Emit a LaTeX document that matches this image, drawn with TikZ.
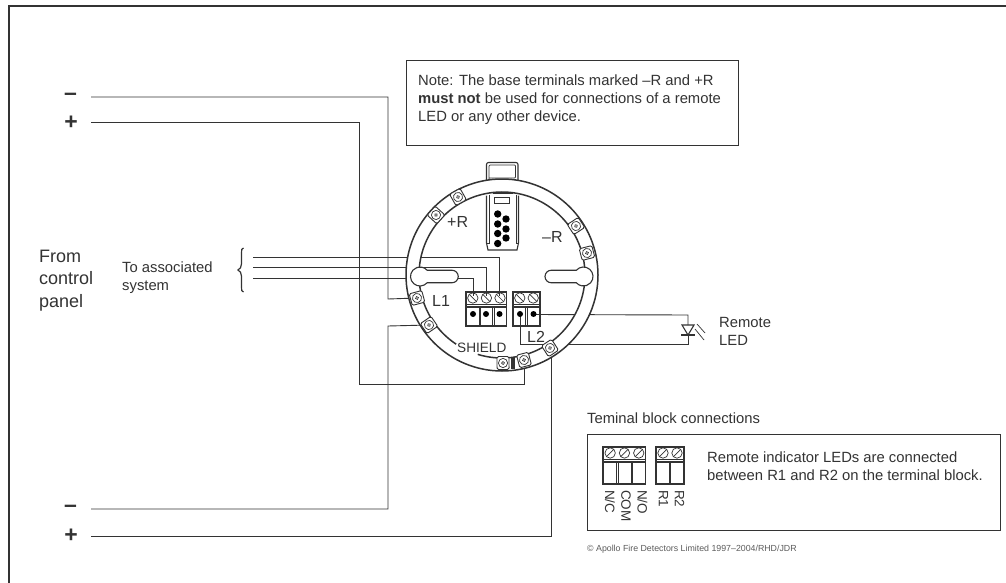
\documentclass[tikz,border=0pt]{standalone}
\usepackage{fontspec}
\setmainfont{Liberation Sans}
\definecolor{ink}{gray}{0.2}
\tikzset{
  frameline/.style={draw=ink,line width=1.8pt},
  wire/.style={draw=ink,line width=0.9pt},
  partline/.style={draw=ink,line width=1.1pt},
  fineline/.style={draw=ink,line width=0.7pt},
  ringline/.style={draw=ink,line width=1.5pt},
  boxline/.style={draw=ink,line width=1pt},
  lbl/.style={inner sep=0pt,text=ink,align=left,font=\fontsize{14.8}{18.3}\selectfont},
  bodylbl/.style={inner sep=0pt,text=ink,align=left,font=\fontsize{14.8}{17.5}\selectfont},
  biglbl/.style={inner sep=0pt,text=ink,align=left,font=\fontsize{18}{22.5}\selectfont},
  signlbl/.style={inner sep=0pt,text=ink,font=\bfseries\fontsize{23}{23}\selectfont},
  baselbl/.style={inner sep=0pt,text=ink,font=\fontsize{16}{16}\selectfont},
  pinlbl/.style={inner sep=0pt,text=ink,rotate=-90,anchor=west,font=\fontsize{13.5}{13.5}\selectfont},
  tinylbl/.style={inner sep=0pt,text=ink!80,font=\fontsize{8.8}{10}\selectfont},
}
% ring screw: x, y (centre (502,275))
\newcommand{\ringscrew}[2]{%
  \pgfmathsetmacro{\ra}{-atan2(#2-275,#1-502)}
  \begin{scope}[shift={(#1,#2)},rotate=\ra]
    \draw[partline,fill=white,line width=0.9pt,rounded corners=1.5pt] (-6.5,-6) rectangle (6.5,6);
    \draw[fineline] (0,0) circle (4.6);
    \draw[fineline] (0,0) circle (1.5);
  \end{scope}
}
% terminal block: left x, top y, cell count, bottom y, slash direction (+1/-1), cell width
\newcommand{\tblock}[6]{%
  \pgfmathsetmacro{\bw}{#3*#6}
  \draw[partline] (#1,#2) rectangle ({#1+\bw},#4);
  \draw[fineline] (#1,#2+12) -- ({#1+\bw},#2+12);
  \draw[partline] (#1,#2+15) -- ({#1+\bw},#2+15);
  \foreach \c in {1,...,#3} {
    \pgfmathsetmacro{\cx}{#1+(\c-0.5)*#6}
    \draw[fineline] (\cx,#2+6) circle (5.2);
    \draw[fineline] (\cx-3.6,#2+6+3.6*#5) -- (\cx+3.6,#2+6-3.6*#5);
  }
  \foreach \c in {1,...,#3} {
    \pgfmathsetmacro{\cx}{#1+(\c-1)*#6}
    \ifnum\c>1 \draw[fineline] (\cx-0.7,#2+15) -- (\cx-0.7,#4); \draw[fineline] (\cx+0.7,#2+15) -- (\cx+0.7,#4);\fi
  }
}
\begin{document}
\begin{tikzpicture}[x=1pt,y=-1pt]
\useasboundingbox (0,0) rectangle (1006,583);
\fill[white] (0,0) rectangle (1006,583);
% frame
\draw[frameline] (9,583) -- (9,6) -- (1006,6);
% note box
\node[boxline,draw,anchor=north west,minimum width=332pt,minimum height=85pt] (note) at (406,60) {};
\node[lbl,anchor=base west] (notetext) at (418,122) {Note: The base terminals marked –R and +R\\\textbf{must not} be used for connections of a remote\\LED or any other device.};
% left labels
\node[signlbl] (m1) at (70.5,97) {–};
\node[signlbl] (p1) at (71,122.5) {+};
\node[signlbl] (m2) at (70.5,509) {–};
\node[signlbl] (p2) at (71,536) {+};
\node[biglbl,anchor=base west] (panel) at (39,307) {From\\control\\panel};
\node[bodylbl,anchor=base west] (assoc) at (122,290) {To associated\\system};
% wire free ends
\coordinate (s1) at (91,97);
\coordinate (s2) at (91,122);
\coordinate (s3) at (91,509);
\coordinate (s4) at (91,536);
\coordinate (t1) at (253,257);
\coordinate (t2) at (253,267);
\coordinate (t3) at (253,278);
\coordinate (scrA) at (417,298);
\coordinate (scrB) at (429,325);
\coordinate (scrC) at (524,360);
\coordinate (scrD) at (550,348);
% brace
\draw[partline,line width=1.2pt] (243.5,248) .. controls (241.5,248) and (241.5,250) .. (241.5,253) -- (241.5,264) .. controls (241.5,267) and (240,269) .. (238,270) .. controls (240,271) and (241.5,273) .. (241.5,276) -- (241.5,287) .. controls (241.5,290) and (241.5,292) .. (243.5,292);
% wires
\draw[wire] (s1) -- (388,97) -- (388,299) -- (scrA);
\draw[wire] (s2) -- (359,122) -- (359,384) -- (524,384) -- (scrC);
\draw[wire] (s3) -- (388,509) -- (388,326) -- (scrB);
\draw[wire] (s4) -- (551,536) -- (551,348);
\draw[wire] (t1) -- (499.5,257) -- (499.5,296);
\draw[wire] (t2) -- (486,267) -- (486,296);
\draw[wire] (t3) -- (473,278) -- (473,296);
% LED and its wiring
\coordinate (ledtop) at (688,315);
\coordinate (ledbot) at (688,344);
\draw[wire] (533.5,314.5) -- (ledtop) -- (688,325);
\draw[wire] (520,314.5) -- (520,344) -- (ledbot) -- (688,335);
\draw[partline] (682,325) -- (694,325) -- (688,335) -- cycle;
\draw[partline] (681,335) -- (695,335);
\draw[fineline] (695,329) -- (704,340);
\draw[fineline] (697,324) -- (705,333);
\node[bodylbl,anchor=base west] (remote) at (719,345) {Remote\\LED};
% tab
\draw[partline,rounded corners=2pt,fill=white] (486.5,182) -- (486.5,162.5) -- (518,162.5) -- (518,182);
\draw[fineline,rounded corners=1pt] (489,182) -- (489,165) -- (515.5,165) -- (515.5,178) -- (489,178);
% base ring
\path[fill=white,even odd rule] (502,275) circle (96) (502,275) circle (83);
\draw[ringline] (502,275) circle (96);
\draw[ringline] (502,275) ++(123.5:83) arc[start angle=123.5,end angle=467,radius=83];
% sensor housing
\draw[partline] (486.5,195.5) -- (486.5,243) -- (488,250) -- (517,250) -- (518.5,243) -- (518.5,195.5);
\draw[fineline] (489,194.5) -- (489,243) -- (486.5,243);
\draw[fineline] (516,194.5) -- (516,243) -- (518.5,243);
\draw[partline,line width=1.4pt] (493,193.5) -- (513,193.5);
\draw[fineline] (494,197) rectangle (509.5,203.5);
\foreach \dx/\dy in {497.7/214,506/219,497.7/224,506/229,497.7/233.5,506/238,497.7/243.5}
  \fill[black] (\dx,\dy) circle (3.7);
% slots
\draw[partline,fill=white] (420,276.5) ++(41:9.5) arc[start angle=41,end angle=319,radius=9.5] -- (452,270.25) arc[start angle=-90,end angle=90,radius=6.25] -- cycle;
\draw[partline,fill=white] (583.5,276.5) ++(221:9.5) arc[start angle=221,end angle=499,radius=9.5] -- (551.25,282.75) arc[start angle=90,end angle=270,radius=6.25] -- cycle;
% ring screws
\foreach \sx/\sy in {436/215,458/197,576/226,587/253,417/298,429/325,503/363,524/360,550/348}
  \ringscrew{\sx}{\sy}
\fill[ink] (511,357.5) rectangle (514.5,369);
% terminal blocks on base
\tblock{466}{292}{3}{326}{-1}{13.6}
\tblock{513}{292}{2}{326}{-1}{13.5}
\foreach \dx in {473,486,499.5,520,533.5}
  \fill[black] (\dx,314) circle (3);
% base labels
\node[baselbl,anchor=base west] (plusr) at (447,227) {+R};
\node[baselbl,anchor=base west] (minusr) at (542,242) {–R};
\node[baselbl,anchor=base west] (lone) at (432,306) {L1};
\node[baselbl,anchor=base west] (ltwo) at (527,342) {L2};
\node[inner sep=0pt,text=ink,anchor=base west,font=\fontsize{13.6}{14}\selectfont] (shield) at (457,352) {SHIELD};
% terminal block box
\node[bodylbl,anchor=base west] (tbtitle) at (587,423) {Teminal block connections};
\node[boxline,draw,anchor=north west,minimum width=413pt,minimum height=96pt] (tbox) at (587,434) {};
\tblock{603}{447}{3}{484}{1}{14.3}
\tblock{656}{447}{2}{484}{1}{14}
\node[pinlbl] (nc) at (610,490) {N/C};
\node[pinlbl] (com) at (626,490) {COM};
\node[pinlbl] (no) at (642.5,490) {N/O};
\node[pinlbl] (rone) at (663.5,490) {R1};
\node[pinlbl] (rtwo) at (679.5,490) {R2};
\node[bodylbl,anchor=base west] (tbtext) at (707,480) {Remote indicator LEDs are connected\\between R1 and R2 on the terminal block.};
\node[tinylbl,anchor=base west] (copy) at (587,551) {© Apollo Fire Detectors Limited 1997–2004/RHD/JDR};
\end{tikzpicture}
\end{document}
